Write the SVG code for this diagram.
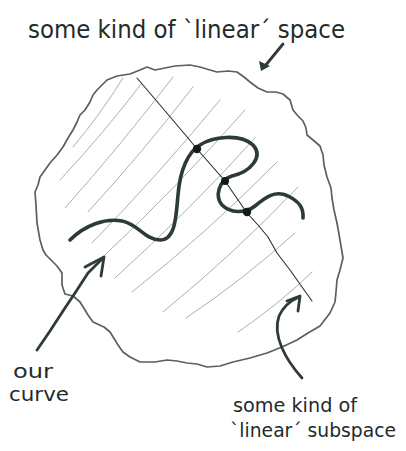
<svg xmlns="http://www.w3.org/2000/svg" width="406" height="451" viewBox="0 0 406 451">
<style>
.txt{font-family:"DejaVu Sans","Liberation Sans",sans-serif;fill:#1f2b2b;}
.hatch{fill:none;stroke:#8f9494;stroke-width:0.75;stroke-linecap:round;}
.blob{fill:none;stroke:#55625f;stroke-width:1.7;stroke-linejoin:round;}
.curve{fill:none;stroke:#2c3a39;stroke-width:3.6;stroke-linecap:round;stroke-linejoin:round;}
.sub{fill:none;stroke:#2a2f2f;stroke-width:1.1;stroke-linecap:round;stroke-linejoin:round;}
.arrow{fill:none;stroke:#2f3b3a;stroke-width:2.8;stroke-linecap:round;stroke-linejoin:round;}
.dot{fill:#161a1a;}
</style>
<rect width="406" height="451" fill="#ffffff"/>
<g id="space">
<path class="blob" d="M93,95 L97,90 L107,80 L117,76 L130,74 L140,70 L147,67 L155,70 L165,68 L175,66 L190,65 L200,67 L210,70 L217,72 L228,71 L237,72 L244,77 L250,82 L258,88 L267,92 L276,92 L283,94 L290,100 L293,110 L298,116 L303,121 L306,128 L307,135 L313,140 L320,146 L323,155 L324,165 L327,177 L331,188 L332,198 L334,210 L337,223 L340,240 L343,258 L340,270 L337,280 L336,292 L335,302 L330,313 L320,326 L308,333 L297,340 L282,347 L267,353 L250,358 L233,362 L220,366 L207,367 L197,364 L187,363 L177,361 L167,360 L155,362 L140,362 L130,357 L123,352 L118,345 L115,340 L110,332 L104,327 L93,322 L88,315 L85,310 L80,302 L73,296 L65,294 L62,285 L62,273 L57,266 L53,262 L46,255 L43,250 L40,240 L37,223 L36,205 L35,192 L38,185 L40,177 L45,170 L50,163 L57,155 L63,147 L68,138 L73,130 L77,122 L80,115 L85,110 L90,102 Z"/>
<g id="hatching">
<path class="hatch" d="M73,147 Q100,115 123,78"/>
<path class="hatch" d="M60,180 Q103,134 142,83"/>
<path class="hatch" d="M65,208 Q121,145 173,77"/>
<path class="hatch" d="M88,212 Q143,152 193,87"/>
<path class="hatch" d="M92,243 Q159,174 220,100"/>
<path class="hatch" d="M104,256 Q178,186 245,110"/>
<path class="hatch" d="M115,278 Q189,211 255,138"/>
<path class="hatch" d="M132,292 Q208,232 277,162"/>
<path class="hatch" d="M163,312 Q234,254 298,187"/>
<path class="hatch" d="M186,318 Q244,279 295,233"/>
<path class="hatch" d="M238,332 Q278,305 312,272"/>
</g>
</g>
<g id="subspace">
<path class="sub" d="M137,78 L160,105 L188,138 L197,149 L225,181 L247,213 L258,225 L268,237 L277,253 L290,270 L302,287 L312,301"/>
</g>
<g id="curve">
<path class="curve" d="M70,240 C85,225 105,218 122,221 C138,224 145,240 160,240 C176,240 176,215 178,195 C180,170 188,152 200,145 C212,137 240,133 253,145 C264,157 250,172 232,176 C218,180 215,197 222,205 C230,213 245,214 255,206 C266,197 275,190 288,196 C298,201 304,207 303,218"/>
</g>
<g id="points">
<circle class="dot" cx="197" cy="149" r="4.2"/>
<circle class="dot" cx="225" cy="181" r="4"/>
<circle class="dot" cx="247" cy="212" r="4.2"/>
</g>
<g id="connectors">
<path class="arrow" stroke-width="2" d="M283,44 L265,66"/>
<path fill="#2f3b3a" d="M261,71 L259,61 L270,66 Z"/>
<path class="arrow" d="M37,350 L50,331 L63,311 L77,290 L88,273 L103,258"/>
<path class="arrow" d="M85,267 L104,257 L101,276"/>
<path class="arrow" d="M302,378 C286,360 272,336 279,316 Q285,303 299,297"/>
<path class="arrow" d="M287,301 L300,296 L298,311"/>
</g>
<g id="labels">
<text class="txt" x="28" y="38" font-size="24" textLength="317" lengthAdjust="spacingAndGlyphs">some kind of `linear´ space</text>
<text class="txt" x="13" y="378" font-size="19" textLength="40" lengthAdjust="spacingAndGlyphs">our</text>
<text class="txt" x="9" y="401" font-size="20" textLength="60" lengthAdjust="spacingAndGlyphs">curve</text>
<text class="txt" x="233" y="412" font-size="19" textLength="124" lengthAdjust="spacingAndGlyphs">some kind of</text>
<text class="txt" x="230" y="437" font-size="20" textLength="166" lengthAdjust="spacingAndGlyphs">`linear´ subspace</text>
</g>
</svg>
